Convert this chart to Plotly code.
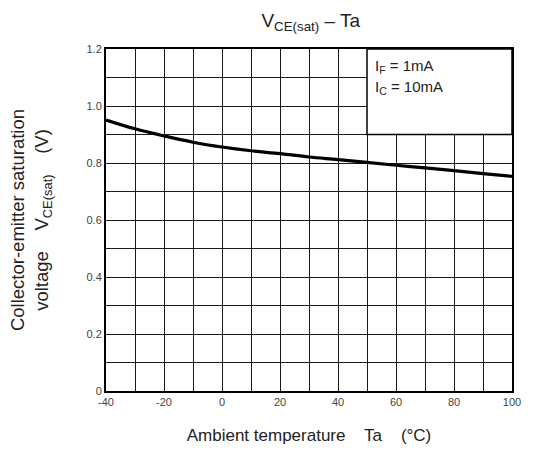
import plotly.graph_objects as go

ta = [-40, -30, -20, -10, 0, 10, 20, 30, 40, 50, 60, 70, 80, 90, 100]
vce_sat = [0.951, 0.920, 0.895, 0.873, 0.856, 0.843, 0.833, 0.821, 0.812, 0.802, 0.792, 0.783, 0.773, 0.763, 0.753]

x_ticks = [-40, -20, 0, 20, 40, 60, 80, 100]
x_tick_labels = ["-40", "-20", "0", "20", "40", "60", "80", "100"]
y_ticks = [0, 0.2, 0.4, 0.6, 0.8, 1.0, 1.2]
y_tick_labels = ["0", "0.2", "0.4", "0.6", "0.8", "1.0", "1.2"]

font = "Liberation Sans, Arial, sans-serif"
grid_col = "#1a1a1a"

fig = go.Figure()
fig.add_trace(go.Scatter(x=ta, y=vce_sat, mode="lines",
                         line=dict(color="black", width=3.2, shape="spline"),
                         showlegend=False, hoverinfo="skip"))

fig.update_layout(
    width=533, height=454,
    margin=dict(l=106, r=17, t=49, b=58),
    paper_bgcolor="white", plot_bgcolor="white",
    font=dict(family=font, color="#222"),
    title=dict(text="V<sub>CE(sat)</sub> – Ta", x=0.583, xanchor="center",
               y=0.955, yanchor="middle", font=dict(size=19, color="#222")),
    xaxis=dict(range=[-40, 100], tickvals=x_ticks, ticktext=x_tick_labels,
               showgrid=True, gridcolor=grid_col, gridwidth=1.4,
               minor=dict(dtick=10, showgrid=True, gridcolor=grid_col, gridwidth=1.1),
               zeroline=False, showline=True, linecolor="black", linewidth=2, mirror=True,
               ticks="", tickfont=dict(size=11, color="#444"),
               title=dict(text="Ambient temperature    Ta    (°C)",
                          font=dict(size=17, color="#222"), standoff=22)),
    yaxis=dict(range=[0, 1.2], tickvals=y_ticks, ticktext=y_tick_labels,
               showgrid=True, gridcolor=grid_col, gridwidth=1.4,
               minor=dict(dtick=0.1, showgrid=True, gridcolor=grid_col, gridwidth=1.1),
               zeroline=False, showline=True, linecolor="black", linewidth=2, mirror=True,
               ticks="", tickfont=dict(size=11, color="#444"),
               title=dict(text="Collector-emitter saturation<br>voltage    V<sub>CE(sat)</sub>    (V)",
                          font=dict(size=18.5, color="#222"), standoff=33)),
)

fig.add_shape(type="rect", xref="x", yref="y", x0=50, x1=100, y0=0.9, y1=1.2,
              fillcolor="white", line=dict(color="black", width=1.5), layer="above")

fig.add_annotation(xref="x", yref="y", x=52, y=1.14, xanchor="left", yanchor="middle",
                   text="I<sub>F</sub> = 1mA", showarrow=False,
                   font=dict(size=15, color="#222"))
fig.add_annotation(xref="x", yref="y", x=52, y=1.065, xanchor="left", yanchor="middle",
                   text="I<sub>C</sub> = 10mA", showarrow=False,
                   font=dict(size=15, color="#222"))

fig.write_html("out.html", config={"displayModeBar": False},
               post_script="document.body.style.margin='0';")
